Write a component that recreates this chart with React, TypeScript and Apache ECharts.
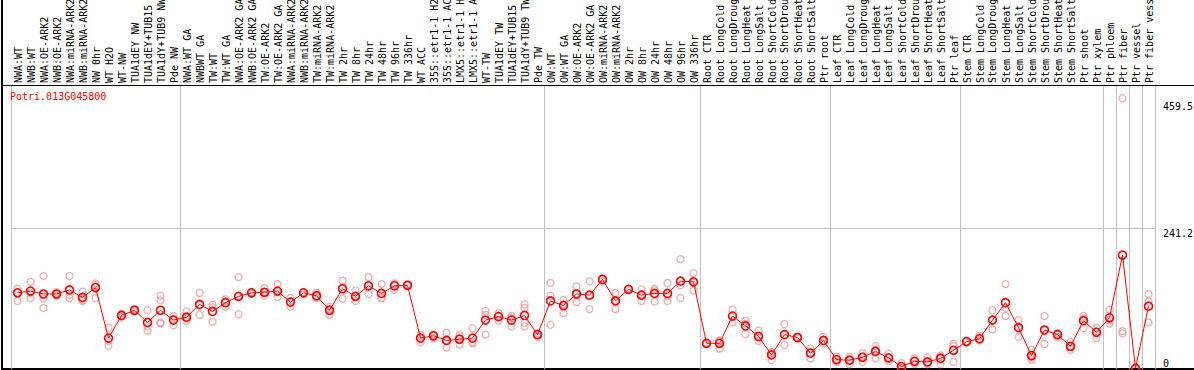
import React, { useEffect, useRef } from 'react';
import * as echarts from 'echarts';

const MONO = '"DejaVu Sans Mono", "Liberation Mono", monospace';

const geneId = 'Potri.013G045800';

const categories = [
  'NWA:WT', 'NWB:WT', 'NWA:OE-ARK2', 'NWB:OE-ARK2', 'NWA:miRNA-ARK2', 'NWB:miRNA-ARK2', 'NW 0hr', 'WT H2O', 'WT-NW',
  'TUA1dEY NW', 'TUA1dEY+TUB15', 'TUA1dY+TUB9 NW', 'Pde NW',
  'NWA:WT GA', 'NWBWT GA', 'TW:WT', 'TW:WT GA', 'NWA:OE-ARK2 GA', 'NWB:OE-ARK2 GA', 'TW:OE-ARK2', 'TW:OE-ARK2 GA',
  'NWA:miRNA-ARK2', 'NWB:miRNA-ARK2', 'TW:miRNA-ARK2', 'TW:miRNA-ARK2', 'TW 2hr', 'TW 8hr', 'TW 24hr', 'TW 48hr',
  'TW 96hr', 'TW 336hr', 'WT ACC', '35S::etr1-1 H2', '35S::etr1-1 AC', 'LMX5::etr1-1 H', 'LMX5::etr1-1 A', 'WT-TW',
  'TUA1dEY TW', 'TUA1dEY+TUB15', 'TUA1dY+TUB9 TW', 'Pde TW',
  'OW:WT', 'OW:WT GA', 'OW:OE-ARK2', 'OW:OE-ARK2 GA', 'OW:miRNA-ARK2', 'OW:miRNA-ARK2', 'OW 2hr', 'OW 8hr', 'OW 24hr',
  'OW 48hr', 'OW 96hr', 'OW 336hr',
  'Root CTR', 'Root LongCold', 'Root LongDroug', 'Root LongHeat', 'Root LongSalt', 'Root ShortCold', 'Root ShortDrou',
  'Root ShortHeat', 'Root ShortSalt', 'Ptr root',
  'Leaf CTR', 'Leaf LongCold', 'Leaf LongDroug', 'Leaf LongHeat', 'Leaf LongSalt', 'Leaf ShortCold', 'Leaf ShortDrou',
  'Leaf ShortHeat', 'Leaf ShortSalt', 'Ptr leaf',
  'Stem CTR', 'Stem LongCold', 'Stem LongDroug', 'Stem LongHeat', 'Stem LongSalt', 'Stem ShortCold', 'Stem ShortDrou',
  'Stem ShortHeat', 'Stem ShortSalt', 'Ptr shoot', 'Ptr xylem',
  'Ptr phloem', 'Ptr fiber', 'Ptr vessel', 'Ptr fiber vess',
];

const means = [
  130, 133, 128, 128, 135, 122, 139, 52, 91, 100, 79, 100, 83,
  88, 110, 98, 113, 124, 130, 131, 133, 114, 130, 125, 100, 137, 124, 142, 129, 142, 143, 52, 56, 48, 50, 52, 83, 89, 83, 91, 58,
  116, 108, 128, 126, 153, 116, 136, 126, 129, 129, 150, 149,
  43, 43, 90, 73, 55, 23, 58, 53, 26, 48,
  15, 14, 19, 29, 18, 3, 12, 11, 17, 31,
  46, 51, 83, 113, 70, 22, 66, 58, 38, 82, 62,
  87, 195, 0, 107,
];

const replicates = [
  [137, 116, 130], [149, 121, 130], [159, 120, 104], [131, 125, 128], [159, 121, 126], [132, 116, 118],
  [146, 121, 143], [70, 39, 47], [94, 88, 90], [102, 98], [100, 65, 72], [125, 117, 79, 77], [90, 74, 85],
  [98, 81, 86], [130, 92, 109], [109, 80, 105], [119, 106, 115], [157, 93, 123], [131, 128, 131], [138, 125, 131],
  [145, 123, 131], [121, 106, 115], [131, 128], [130, 121, 124], [106, 92, 102], [151, 120, 140], [134, 116, 122],
  [157, 128, 141], [145, 121, 121], [146, 135, 145], [143, 144], [58, 45, 53], [58, 52, 57], [61, 36, 47],
  [57, 41, 52], [69, 43, 45], [99, 58, 92], [95, 82, 90], [90, 72, 87], [110, 104, 72, 78], [60, 54],
  [147, 125, 75], [118, 95, 110], [141, 114, 128], [150, 102, 126], [155, 150], [130, 102, 117], [136, 135],
  [136, 116, 127], [134, 115, 137], [147, 116, 124], [188, 143, 121], [164, 134, 148],
  [44, 42], [48, 34, 47], [101, 79, 90], [82, 59, 77], [65, 47, 53], [28, 14, 27], [76, 40, 57], [54, 52],
  [34, 17, 27], [54, 43, 47],
  [20, 11, 15], [20, 7, 14], [26, 11, 20], [38, 17, 32], [25, 12, 17], [9, 1, 0], [17, 8, 12], [19, 7, 8],
  [22, 7, 20], [42, 11, 38],
  [47, 45], [56, 48, 49], [100, 67, 83], [145, 90, 104], [83, 54, 72], [32, 15, 19], [90, 42, 66], [61, 54, 58],
  [45, 32, 37], [90, 69, 86], [70, 52, 64],
  [101, 77, 83], [465, 60, 64], [0], [128, 115, 79],
];

const yTopTicks = [241.2, 459.5];
const yBottomTicks = [0];
const gridLineValues = [241.2];
// index of the first category of each group (plus the end boundary)
const groupBoundaries = [0, 13, 41, 53, 63, 73, 84, 85, 86, 87, 88];

const Y_MIN = -1.2;
const Y_MAX = 486.2;

export default function App() {
  const ref = useRef<HTMLDivElement>(null);

  useEffect(() => {
    document.body.style.margin = '0';
    if (!ref.current) return;
    const chart = echarts.init(ref.current, null, { renderer: 'svg' });
    const boundarySet = new Set(groupBoundaries);
    const repData: [number, number][] = [];
    replicates.forEach((vals, i) => vals.forEach((v) => repData.push([i, v])));

    const yLabelBase = {
      margin: 8,
      align: 'left',
      color: '#000000',
      fontSize: 10,
      lineHeight: 10,
      fontFamily: MONO,
      formatter: (v: number) => String(v),
    };

    const frame = [
      { id: 'fl', type: 'line', shape: { x1: 2, y1: 0, x2: 2, y2: 370 }, style: { stroke: '#000', lineWidth: 2 }, silent: true },
      { id: 'ft', type: 'line', shape: { x1: 1, y1: 85.5, x2: 1194, y2: 85.5 }, style: { stroke: '#000', lineWidth: 1 }, silent: true },
      { id: 'fb', type: 'line', shape: { x1: 1, y1: 369, x2: 1194, y2: 369 }, style: { stroke: '#000', lineWidth: 2 }, silent: true },
    ];

    chart.setOption({
      animation: false,
      backgroundColor: '#ffffff',
      title: {
        text: geneId,
        left: 10,
        top: 91,
        padding: 0,
        textStyle: { color: '#ff0000', fontSize: 10, fontWeight: 'normal', fontFamily: MONO },
      },
      grid: { left: 11, right: 39, top: 86, bottom: 1, containLabel: false, outerBoundsMode: 'none' },
      xAxis: {
        type: 'category',
        data: categories,
        position: 'top',
        boundaryGap: true,
        axisLine: { show: false },
        axisTick: {
          show: true,
          interval: (i: number) => boundarySet.has(i),
          length: 86,
          lineStyle: { color: '#c0c0c0', width: 1 },
        },
        axisLabel: { show: false },
        splitLine: {
          show: true,
          interval: (i: number) => boundarySet.has(i),
          lineStyle: { color: '#c0c0c0', width: 1 },
        },
      },
      yAxis: [
        {
          type: 'value',
          position: 'right',
          min: Y_MIN,
          max: Y_MAX,
          axisLine: { show: false },
          axisTick: { show: false },
          splitLine: { show: false },
          axisLabel: { ...yLabelBase, customValues: yTopTicks, verticalAlign: 'top' },
        },
        {
          type: 'value',
          position: 'right',
          min: Y_MIN,
          max: Y_MAX,
          axisLine: { show: false },
          axisTick: { show: false },
          splitLine: { show: false },
          axisLabel: { ...yLabelBase, customValues: yBottomTicks, verticalAlign: 'bottom' },
        },
      ],
      series: [
        {
          name: 'replicates',
          type: 'scatter',
          data: repData,
          symbol: 'circle',
          symbolSize: 7,
          itemStyle: { color: 'rgba(0,0,0,0)', borderColor: '#ec9a9a', borderWidth: 1.3 },
          z: 2,
          silent: true,
        },
        {
          name: 'mean',
          type: 'line',
          data: means,
          symbol: 'circle',
          symbolSize: 8,
          showAllSymbol: true,
          lineStyle: { color: '#ff0000', width: 1 },
          itemStyle: { color: 'rgba(0,0,0,0)', borderColor: '#ff0000', borderWidth: 1.6 },
          z: 3,
          silent: true,
          markLine: {
            silent: true,
            symbol: 'none',
            label: { show: false },
            lineStyle: { color: '#c0c0c0', type: 'solid', width: 1 },
            data: gridLineValues.map((v) => ({ yAxis: v })),
            z: 1,
          },
        },
      ],
      graphic: frame,
    });

    // header labels: vertical text, positioned through the category axis scale
    const labels = categories.map((c, i) => {
      const x = chart.convertToPixel({ xAxisIndex: 0 }, i) as number;
      return {
        id: 'lab' + i,
        type: 'text',
        x: Math.round(x) + 0.5,
        y: 83,
        rotation: Math.PI / 2,
        silent: true,
        style: {
          text: c,
          fill: '#000000',
          fontSize: 10,
          fontFamily: MONO,
          align: 'left',
          verticalAlign: 'middle',
        },
      };
    });
    chart.setOption({ graphic: [...frame, ...labels] });

    return () => chart.dispose();
  }, []);

  return (
    <div
      ref={ref}
      style={{ position: 'absolute', left: 0, top: 0, width: 1194, height: 370, background: '#fff' }}
    />
  );
}
